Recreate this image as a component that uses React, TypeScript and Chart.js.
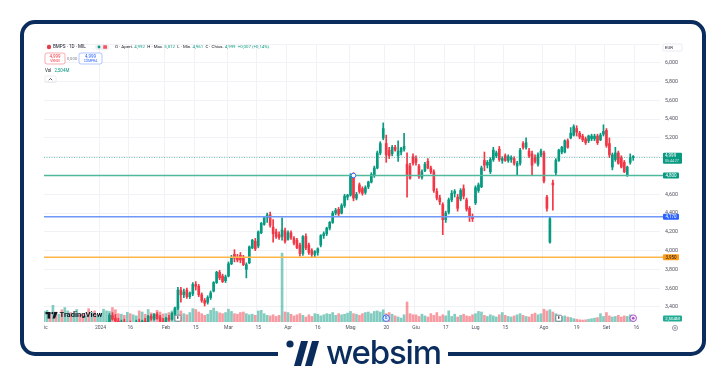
import React, { useEffect, useRef } from 'react';
import { Chart, registerables } from 'chart.js';

Chart.register(...registerables);

// ---------------- data ----------------
const firstSession = '2023-12-01';
const marketHolidays = ['2023-12-25', '2023-12-26', '2024-01-01', '2024-03-29', '2024-04-01', '2024-05-01', '2024-08-15'];
const sessionSlots = 208;

const timeTickIndex = [0, 19, 29, 41, 51, 62, 72, 82, 92, 103, 115, 125, 135, 145, 155, 168, 179, 189, 199];
const timeTickText = ['Dic', '2024', '16', 'Feb', '15', 'Mar', '15', 'Apr', '16', 'Mag', '20', 'Giu', '17', 'Lug', '15', 'Ago', '19', 'Set', '16'];

const priceTicks = [3.4, 3.6, 3.8, 4.0, 4.2, 4.4, 4.6, 4.8, 5.0, 5.2, 5.4, 5.6, 5.8, 6.0, 6.2];

const opens = [
  2.98, 3.00, 3.02, 2.99, 3.05, 3.03, 3.06, 3.04, 3.07, 3.10, 3.06, 3.09, 3.12, 3.08, 3.05, 3.07, 3.04, 3.06, 3.03,
  3.06, 3.11, 3.18, 3.24, 3.31, 3.28, 3.25, 3.22, 3.24, 3.20, 3.22, 3.19, 3.21, 3.24, 3.22, 3.25, 3.23, 3.30, 3.27, 3.32, 3.29, 3.25,
  3.23, 3.28, 3.27, 3.33, 3.39, 3.58, 3.53, 3.58, 3.51, 3.54, 3.64, 3.62, 3.53, 3.47, 3.45, 3.50, 3.57, 3.66, 3.77, 3.73, 3.68,
  3.73, 3.86, 3.96, 3.93, 3.95, 3.93, 3.80, 3.87, 4.03, 4.10, 4.05, 4.19, 4.28, 4.35, 4.38, 4.25, 4.20, 4.17, 4.15, 4.21,
  4.12, 4.19, 4.13, 4.11, 4.06, 3.97, 4.15, 4.06, 4.00, 3.96, 3.98, 4.06, 4.16, 4.18, 4.24, 4.30, 4.40, 4.44, 4.40, 4.48, 4.57,
  4.59, 4.79, 4.56, 4.70, 4.66, 4.62, 4.68, 4.73, 4.80, 4.88, 5.04, 5.20, 5.14, 5.07, 5.03, 5.10, 5.01, 5.05, 5.08, 4.92, 4.90, 5.00,
  4.98, 4.90, 4.78, 4.85, 4.95, 4.88, 4.84, 4.63, 4.56, 4.49, 4.33, 4.41, 4.54, 4.61, 4.57, 4.55, 4.66, 4.54, 4.45, 4.36,
  4.51, 4.64, 4.68, 4.96, 4.91, 4.84, 4.97, 5.01, 5.08, 4.96, 5.01, 4.96, 4.97, 4.98, 4.90, 4.93, 5.14, 5.10, 5.06, 5.03, 4.99, 4.92, 5.02,
  5.04, 4.57, 4.09, 4.72, 4.83, 4.96, 5.05, 5.05, 5.17, 5.20, 5.23, 5.30, 5.25, 5.22, 5.19, 5.17, 5.19, 5.19, 5.22, 5.18, 5.24,
  5.28, 5.14, 4.89, 4.97, 5.04, 4.99, 4.94, 4.80, 4.94, 4.992,
];
const highs = [
  3.02, 3.04, 3.05, 3.06, 3.09, 3.07, 3.10, 3.08, 3.12, 3.13, 3.11, 3.14, 3.15, 3.11, 3.09, 3.10, 3.08, 3.09, 3.07,
  3.12, 3.19, 3.24, 3.33, 3.34, 3.32, 3.28, 3.26, 3.27, 3.24, 3.25, 3.23, 3.26, 3.27, 3.26, 3.28, 3.31, 3.32, 3.33, 3.34, 3.31, 3.28,
  3.29, 3.31, 3.34, 3.40, 3.61, 3.61, 3.59, 3.60, 3.56, 3.66, 3.67, 3.64, 3.55, 3.49, 3.52, 3.57, 3.67, 3.78, 3.79, 3.75, 3.74,
  3.88, 3.95, 4.01, 3.96, 3.98, 3.95, 3.87, 4.05, 4.12, 4.13, 4.21, 4.30, 4.36, 4.40, 4.41, 4.33, 4.23, 4.20, 4.35, 4.24,
  4.21, 4.21, 4.15, 4.13, 4.08, 4.16, 4.18, 4.08, 4.02, 4.00, 4.03, 4.17, 4.20, 4.25, 4.31, 4.42, 4.45, 4.46, 4.50, 4.60, 4.60,
  4.82, 4.83, 4.62, 4.72, 4.68, 4.69, 4.74, 4.83, 4.90, 5.06, 5.16, 5.36, 5.23, 5.10, 5.12, 5.12, 5.17, 5.10, 5.25, 5.04, 4.93, 5.03,
  5.01, 4.92, 4.86, 4.94, 4.98, 4.90, 4.86, 4.66, 4.59, 4.51, 4.42, 4.56, 4.64, 4.65, 4.60, 4.66, 4.70, 4.56, 4.47, 4.39,
  4.69, 4.72, 4.90, 5.05, 4.96, 4.99, 5.10, 5.06, 5.11, 5.00, 5.03, 5.02, 5.01, 5.00, 4.95, 5.09, 5.16, 5.20, 5.09, 5.06, 5.02, 5.04, 5.08,
  5.06, 4.59, 4.36, 4.75, 4.98, 5.08, 5.11, 5.18, 5.19, 5.31, 5.34, 5.33, 5.27, 5.24, 5.21, 5.23, 5.24, 5.24, 5.24, 5.25, 5.34,
  5.30, 5.20, 5.04, 5.10, 5.06, 5.01, 4.96, 4.90, 5.03, 5.012,
];
const lows = [
  2.95, 2.97, 2.98, 2.97, 3.01, 2.99, 3.02, 3.00, 3.04, 3.05, 3.03, 3.06, 3.07, 3.03, 3.02, 3.03, 3.01, 3.02, 3.00,
  3.04, 3.09, 3.15, 3.22, 3.26, 3.23, 3.20, 3.18, 3.19, 3.16, 3.18, 3.16, 3.19, 3.20, 3.19, 3.21, 3.22, 3.26, 3.26, 3.27, 3.23, 3.21,
  3.22, 3.25, 3.26, 3.31, 3.37, 3.45, 3.50, 3.49, 3.49, 3.52, 3.58, 3.51, 3.45, 3.41, 3.43, 3.48, 3.56, 3.65, 3.69, 3.66, 3.66,
  3.72, 3.85, 3.88, 3.88, 3.87, 3.84, 3.71, 3.86, 4.02, 4.00, 4.03, 4.18, 4.27, 4.30, 4.25, 4.09, 4.13, 4.12, 4.11, 4.08,
  4.11, 4.12, 4.06, 4.02, 3.94, 3.95, 4.01, 3.96, 3.93, 3.93, 3.95, 4.04, 4.13, 4.16, 4.22, 4.29, 4.38, 4.37, 4.39, 4.46, 4.54,
  4.58, 4.53, 4.54, 4.61, 4.59, 4.60, 4.66, 4.72, 4.78, 4.87, 5.02, 5.18, 4.94, 4.98, 5.01, 5.06, 4.95, 5.02, 5.06, 4.57, 4.76, 4.91,
  4.91, 4.77, 4.76, 4.84, 4.87, 4.82, 4.62, 4.54, 4.49, 4.17, 4.30, 4.39, 4.52, 4.57, 4.42, 4.53, 4.55, 4.42, 4.31, 4.31,
  4.49, 4.62, 4.67, 4.85, 4.88, 4.82, 4.95, 4.99, 4.95, 4.93, 4.95, 4.94, 4.94, 4.91, 4.80, 4.91, 5.08, 5.08, 4.99, 4.80, 4.93, 4.90, 5.00,
  4.72, 4.42, 4.08, 4.43, 4.81, 4.95, 5.03, 5.04, 5.09, 5.19, 5.22, 5.22, 5.19, 5.16, 5.13, 5.15, 5.17, 5.17, 5.13, 5.17, 5.22,
  5.10, 4.99, 4.86, 4.95, 4.92, 4.88, 4.83, 4.79, 4.92, 4.961,
];
const closes = [
  3.00, 3.02, 2.99, 3.05, 3.03, 3.06, 3.04, 3.07, 3.10, 3.06, 3.09, 3.12, 3.08, 3.05, 3.07, 3.04, 3.06, 3.03, 3.05,
  3.11, 3.18, 3.22, 3.31, 3.27, 3.25, 3.22, 3.24, 3.20, 3.22, 3.19, 3.21, 3.24, 3.22, 3.25, 3.23, 3.30, 3.28, 3.32, 3.28, 3.25, 3.22,
  3.28, 3.27, 3.33, 3.39, 3.58, 3.53, 3.56, 3.51, 3.55, 3.64, 3.62, 3.53, 3.47, 3.44, 3.50, 3.55, 3.66, 3.77, 3.71, 3.67, 3.72,
  3.86, 3.93, 3.92, 3.90, 3.90, 3.85, 3.85, 4.04, 4.11, 4.02, 4.20, 4.29, 4.35, 4.38, 4.27, 4.18, 4.15, 4.14, 4.22, 4.10,
  4.19, 4.14, 4.08, 4.03, 3.97, 4.15, 4.03, 3.98, 3.96, 3.99, 4.02, 4.16, 4.18, 4.24, 4.30, 4.40, 4.43, 4.39, 4.48, 4.58, 4.59,
  4.79, 4.56, 4.60, 4.63, 4.61, 4.67, 4.73, 4.81, 4.88, 5.04, 5.14, 5.30, 5.02, 5.01, 5.10, 5.07, 5.06, 5.09, 5.11, 4.81, 4.77, 4.93,
  4.94, 4.79, 4.84, 4.92, 4.88, 4.84, 4.64, 4.56, 4.52, 4.33, 4.40, 4.54, 4.61, 4.63, 4.45, 4.64, 4.58, 4.44, 4.36, 4.34,
  4.67, 4.70, 4.88, 4.91, 4.94, 4.97, 5.07, 5.04, 4.97, 4.98, 4.96, 5.00, 4.99, 4.93, 4.93, 5.07, 5.10, 5.15, 5.01, 4.91, 4.95, 5.02, 5.06,
  4.74, 4.45, 4.34, 4.70, 4.96, 5.07, 5.10, 5.17, 5.10, 5.25, 5.32, 5.26, 5.21, 5.18, 5.15, 5.22, 5.22, 5.22, 5.15, 5.23, 5.27,
  5.12, 5.02, 5.02, 5.04, 4.93, 4.89, 4.84, 4.89, 4.99, 4.999,
];
const volumesM = [
  38, 42, 30, 60, 36, 28, 44, 52, 40, 34, 31, 45, 26, 30, 22, 48, 35, 40, 25,
  32, 46, 40, 38, 52, 44, 30, 28, 24, 35, 30, 26, 22, 40, 36, 28, 45, 33, 30, 42, 36, 29,
  30, 34, 40, 46, 55, 40, 30, 26, 34, 48, 45, 36, 30, 24, 28, 42, 50, 38, 33, 30, 34,
  46, 38, 30, 28, 34, 36, 30, 26, 28, 24, 40, 42, 30, 24, 22, 26, 20, 24, 248, 36,
  34, 28, 22, 26, 30, 24, 18, 26, 20, 30, 28, 22, 26, 30, 28, 34, 24, 30, 26, 28, 32,
  38, 30, 28, 24, 30, 34, 36, 30, 38, 40, 36, 44, 30, 34, 28, 22, 18, 14, 26, 72, 30, 26,
  26, 20, 28, 22, 18, 30, 24, 34, 20, 26, 22, 40, 20, 28, 18, 24, 28, 22, 20, 26,
  30, 38, 36, 24, 20, 26, 22, 18, 26, 34, 24, 20, 18, 22, 26, 30, 24, 20, 18, 28, 32, 26, 30,
  46, 40, 44, 36, 30, 24, 20, 22, 18, 16, 12, 10, 8, 7, 8, 10, 12, 14, 16, 30, 20,
  34, 22, 18, 20, 24, 18, 22, 20, 26, 2.5,
];

const levelValues = [4.8, 4.36, 3.93];
const levelLabels = ['4,800', '4,170', '3,950'];
const anchorIndex = 104;
const earningsIndex = [45, 173];
const dividendIndex = [115];
const eventIndex = [198];

const headerSymbol = 'BMPS · 1D · MIL';
const ohlcNames = ['O · Apert.', 'H · Max.', 'L · Min.', 'C · Chius.'];
const ohlcValues = ['4,992', '5,012', '4,961', '4,999'];
const changeText = '+0,007 (+0,14%)';
const volumeText = '2,504M';
const countdownText = '05:44:27';

// ---------------- styling ----------------
const GREEN = '#089981';
const RED = '#f23645';
const DARK = '#131722';
const GRID = '#f1f2f5';
const AXIS_TXT = '#50535e';
const FONT = 'Roboto, "DejaVu Sans", sans-serif';
const levelLineColors = ['#4fb99c', '#6f98f7', '#ffb548'];
const levelBoxColors = ['#089981', '#2962ff', '#ff9c1a'];
const levelTextColors = ['#ffffff', '#ffffff', '#131722'];

const fmt = (v: number) => v.toFixed(3).replace('.', ',');

function buildSessions(): string[] {
  const out: string[] = [];
  const d = new Date(firstSession + 'T00:00:00Z');
  while (out.length < sessionSlots) {
    const iso = d.toISOString().slice(0, 10);
    const wd = d.getUTCDay();
    if (wd !== 0 && wd !== 6 && !marketHolidays.includes(iso)) out.push(iso);
    d.setUTCDate(d.getUTCDate() + 1);
  }
  return out;
}

function txt(ctx: CanvasRenderingContext2D, s: string, x: number, y: number, color: string, size: number, weight = 400, align: CanvasTextAlign = 'left') {
  ctx.font = `${weight} ${size}px ${FONT}`;
  ctx.fillStyle = color;
  ctx.textAlign = align;
  ctx.textBaseline = 'middle';
  ctx.fillText(s, x, y);
  return ctx.measureText(s).width;
}

function rrect(ctx: CanvasRenderingContext2D, x: number, y: number, w: number, h: number, r: number) {
  ctx.beginPath();
  ctx.roundRect(x, y, w, h, r);
}

function dot(ctx: CanvasRenderingContext2D, x: number, y: number, r: number) {
  ctx.beginPath();
  ctx.arc(x, y, r, 0, Math.PI * 2);
}

const tvOverlay = {
  id: 'tvOverlay',
  afterDatasetsDraw(chart: any) {
    const { ctx, chartArea: a, scales } = chart;
    const x = scales.x;
    const y = scales.y;
    ctx.save();
    // last price dotted line
    const py = Math.round(y.getPixelForValue(closes[closes.length - 1])) + 0.5;
    ctx.strokeStyle = 'rgba(8,153,129,0.55)';
    ctx.lineWidth = 1;
    ctx.setLineDash([1, 1.5]);
    ctx.beginPath();
    ctx.moveTo(a.left, py);
    ctx.lineTo(a.right + 3, py);
    ctx.stroke();
    ctx.setLineDash([]);
    // horizontal level drawings
    levelValues.forEach((v, k) => {
      const ly = y.getPixelForValue(v);
      ctx.strokeStyle = levelLineColors[k];
      ctx.lineWidth = 1.4;
      ctx.beginPath();
      ctx.moveTo(a.left, ly);
      ctx.lineTo(a.right + 3, ly);
      ctx.stroke();
    });
    // anchor handle
    dot(ctx, x.getPixelForValue(anchorIndex), y.getPixelForValue(levelValues[0]), 2.3);
    ctx.fillStyle = '#fff';
    ctx.fill();
    ctx.strokeStyle = '#2962ff';
    ctx.lineWidth = 0.9;
    ctx.stroke();
    // event markers on the time line
    const my = a.bottom - 3.8;
    earningsIndex.forEach((i) => {
      const mx = x.getPixelForValue(i);
      rrect(ctx, mx - 3, my - 3, 6, 6, 1);
      ctx.fillStyle = '#fff';
      ctx.fill();
      ctx.strokeStyle = '#6a6d78';
      ctx.lineWidth = 0.8;
      ctx.stroke();
      txt(ctx, 'E', mx, my + 0.2, DARK, 4, 500, 'center');
    });
    dividendIndex.forEach((i) => {
      const mx = x.getPixelForValue(i);
      dot(ctx, mx, my, 3.3);
      ctx.fillStyle = '#e3ebff';
      ctx.fill();
      ctx.strokeStyle = '#2962ff';
      ctx.lineWidth = 0.9;
      ctx.stroke();
      txt(ctx, 'D', mx, my + 0.2, '#2962ff', 3.6, 600, 'center');
    });
    eventIndex.forEach((i) => {
      const mx = x.getPixelForValue(i);
      dot(ctx, mx, my, 3.3);
      ctx.fillStyle = '#f6e8fa';
      ctx.fill();
      ctx.strokeStyle = '#a54cc4';
      ctx.lineWidth = 0.9;
      ctx.stroke();
      dot(ctx, mx, my, 1.3);
      ctx.fillStyle = '#a54cc4';
      ctx.fill();
    });
    ctx.restore();
  },
  afterDraw(chart: any) {
    const { ctx, chartArea: a, scales } = chart;
    const y = scales.y;
    const yv = scales.yv;
    ctx.save();
    // hide the part of the first month label that falls left of the pane
    ctx.fillStyle = '#fff';
    ctx.fillRect(26, a.bottom + 1, a.left - 26, 12);

    const bx = a.right + 3;
    // EUR box
    rrect(ctx, bx, a.top, 19, 7, 1);
    ctx.strokeStyle = '#e0e3eb';
    ctx.lineWidth = 0.7;
    ctx.stroke();
    txt(ctx, 'EUR', bx + 2, a.top + 3.6, DARK, 4.3);

    // last price box
    const py = y.getPixelForValue(closes[closes.length - 1]);
    rrect(ctx, bx, py - 4, 19, 11, 1);
    ctx.fillStyle = GREEN;
    ctx.fill();
    txt(ctx, fmt(closes[closes.length - 1]), bx + 2, py - 1, '#fff', 4.6);
    txt(ctx, countdownText, bx + 2, py + 4, 'rgba(255,255,255,0.85)', 3.6);

    // level boxes
    levelValues.forEach((v, k) => {
      const ly = y.getPixelForValue(v);
      rrect(ctx, bx, ly - 3, 16, 6, 1);
      ctx.fillStyle = levelBoxColors[k];
      ctx.fill();
      txt(ctx, levelLabels[k], bx + 8, ly + 0.2, levelTextColors[k], 4.5, 400, 'center');
    });

    // volume box
    const vy = Math.min(yv.getPixelForValue(volumesM[volumesM.length - 1]), a.bottom - 3.5);
    rrect(ctx, bx, vy - 3, 19, 6, 1);
    ctx.fillStyle = '#22ab94';
    ctx.fill();
    txt(ctx, volumeText, bx + 9.5, vy + 0.2, '#fff', 4.4, 400, 'center');

    // gear
    dot(ctx, bx + 12, a.bottom + 6, 2.6);
    ctx.strokeStyle = '#8a8d96';
    ctx.lineWidth = 0.8;
    ctx.stroke();
    dot(ctx, bx + 12, a.bottom + 6, 0.9);
    ctx.stroke();

    // header row 1
    dot(ctx, 49, 47, 2.2);
    ctx.fillStyle = '#e0404a';
    ctx.fill();
    let cx = 53;
    cx += txt(ctx, headerSymbol, cx, 47, DARK, 4.6);
    rrect(ctx, 95, 44, 14, 6, 3);
    ctx.fillStyle = '#eef0f4';
    ctx.fill();
    dot(ctx, 99, 47, 1.4);
    ctx.fillStyle = GREEN;
    ctx.fill();
    rrect(ctx, 103.2, 45.2, 3.8, 3.6, 0.6);
    ctx.fillStyle = '#f7525f';
    ctx.fill();
    cx = 115;
    ohlcNames.forEach((n, k) => {
      cx += txt(ctx, n + ' ', cx, 47, DARK, 4.4);
      cx += txt(ctx, ohlcValues[k] + '  ', cx, 47, GREEN, 4.4);
    });
    txt(ctx, changeText, cx, 47, GREEN, 4.4);

    // header row 2: sell / buy
    rrect(ctx, 45, 53, 20, 11, 2);
    ctx.fillStyle = '#fff';
    ctx.fill();
    ctx.strokeStyle = 'rgba(242,54,69,0.5)';
    ctx.lineWidth = 0.8;
    ctx.stroke();
    txt(ctx, ohlcValues[3], 55, 56.6, RED, 4.5, 400, 'center');
    txt(ctx, 'VENDI', 55, 61.2, RED, 3.3, 400, 'center');
    txt(ctx, '0,000', 72, 58.8, '#787b86', 4.1, 400, 'center');
    rrect(ctx, 79, 53, 23, 11, 2);
    ctx.fillStyle = '#fff';
    ctx.fill();
    ctx.strokeStyle = 'rgba(41,98,255,0.45)';
    ctx.stroke();
    txt(ctx, ohlcValues[3], 90.5, 56.6, '#2962ff', 4.5, 400, 'center');
    txt(ctx, 'COMPRA', 90.5, 61.2, '#2962ff', 3.3, 400, 'center');

    // header row 3: volume
    const vw = txt(ctx, 'Vol', 45, 71, DARK, 4.5);
    txt(ctx, volumeText, 45 + vw + 3, 71, GREEN, 4.5);

    // header row 4: collapse button
    rrect(ctx, 45, 76, 11, 6.5, 1.5);
    ctx.strokeStyle = '#e0e3eb';
    ctx.lineWidth = 0.7;
    ctx.stroke();
    ctx.beginPath();
    ctx.moveTo(48.8, 80.2);
    ctx.lineTo(50.5, 78.5);
    ctx.lineTo(52.2, 80.2);
    ctx.strokeStyle = DARK;
    ctx.stroke();

    // TradingView watermark
    ctx.fillStyle = DARK;
    ctx.fillRect(45.5, 312, 5, 2.2);
    ctx.fillRect(47.6, 312, 2.6, 6.6);
    dot(ctx, 52.4, 313.1, 1.15);
    ctx.fill();
    ctx.beginPath();
    ctx.moveTo(54.2, 312);
    ctx.lineTo(57.6, 312);
    ctx.lineTo(55.0, 318.6);
    ctx.lineTo(52.6, 318.6);
    ctx.closePath();
    ctx.fill();
    txt(ctx, 'TradingView', 59.5, 315.4, DARK, 7.6, 700);
    ctx.restore();
  },
};

export default function App() {
  const ref = useRef<HTMLCanvasElement | null>(null);

  useEffect(() => {
    if (!ref.current) return;
    const labels = buildSessions();
    const tickLabelAt = new Map<number, string>(timeTickIndex.map((i, k) => [i, timeTickText[k]]));
    const candleColors = closes.map((c, i) => (c >= opens[i] ? GREEN : RED));
    const volumeColors = closes.map((c, i) => (c >= opens[i] ? 'rgba(8,153,129,0.5)' : 'rgba(242,54,69,0.5)'));

    const chart = new Chart(ref.current, {
      type: 'bar',
      data: {
        labels,
        datasets: [
          {
            label: 'Volume',
            data: volumesM,
            yAxisID: 'yv',
            backgroundColor: volumeColors,
            barThickness: 2,
            grouped: false,
            order: 3,
          },
          {
            label: 'Wick',
            data: lows.map((l, i) => [l, highs[i]]),
            yAxisID: 'y',
            backgroundColor: candleColors,
            barThickness: 1,
            grouped: false,
            order: 2,
          },
          {
            label: 'Body',
            data: opens.map((o, i) => [o, closes[i]]),
            yAxisID: 'y',
            backgroundColor: candleColors,
            barThickness: 2,
            minBarLength: 1,
            grouped: false,
            order: 1,
          },
        ],
      } as any,
      options: {
        animation: false,
        responsive: false,
        maintainAspectRatio: false,
        layout: { padding: { left: 44, right: 26, top: 44, bottom: 40 } },
        plugins: { legend: { display: false }, tooltip: { enabled: false } },
        scales: {
          x: {
            type: 'category',
            offset: false,
            grid: {
              color: (c: any) => (tickLabelAt.has(c.index) ? GRID : 'rgba(0,0,0,0)'),
              drawTicks: false,
            },
            border: { display: false },
            ticks: {
              autoSkip: false,
              maxRotation: 0,
              minRotation: 0,
              padding: 3,
              color: AXIS_TXT,
              font: { family: FONT, size: 5 },
              callback: (_v: any, i: number) => tickLabelAt.get(i) ?? '',
            },
            afterFit: (s: any) => {
              s.height = 14;
            },
          },
          y: {
            type: 'linear',
            position: 'right',
            min: 3.24,
            max: 6.2,
            afterBuildTicks: (s: any) => {
              s.ticks = priceTicks.map((v) => ({ value: v }));
            },
            grid: { color: GRID, drawTicks: false },
            border: { display: false },
            ticks: {
              padding: 5,
              color: AXIS_TXT,
              font: { family: FONT, size: 5.3 },
              callback: (v: any) => (Number(v) > 6.1 ? '' : fmt(Number(v))),
            },
            afterFit: (s: any) => {
              s.width = 40;
            },
          },
          yv: { type: 'linear', display: false, min: 0, max: 1000 },
        },
      } as any,
      plugins: [tvOverlay],
    });
    return () => chart.destroy();
  }, []);

  return (
    <div style={{ position: 'fixed', left: 0, top: 0, width: 726, height: 376, background: '#fff', overflow: 'hidden' }}>
      <div
        style={{
          position: 'absolute',
          left: 20,
          top: 20,
          width: 686,
          height: 336,
          border: '4px solid #0b2d5e',
          borderRadius: 15,
          boxSizing: 'border-box',
        }}
      />
      <canvas ref={ref} width={726} height={376} style={{ position: 'absolute', left: 0, top: 0, width: 726, height: 376 }} />
      <div style={{ position: 'absolute', left: 278, top: 336, width: 170, height: 34, background: '#fff' }}>
        <svg width={38} height={30} style={{ position: 'absolute', left: 7, top: 2 }} viewBox="0 0 38 30">
          <circle cx={5} cy={6} r={3.6} fill="#0b2d5e" />
          <polygon points="16,3 23,3 16,28 9,28" fill="#0b2d5e" />
          <polygon points="27,3 34,3 27,28 20,28" fill="#0b2d5e" />
        </svg>
        <span
          style={{
            position: 'absolute',
            left: 48,
            top: -0.5,
            fontFamily: 'Inter, Roboto, sans-serif',
            fontWeight: 500,
            fontSize: 33,
            lineHeight: '33px',
            color: '#0b2d5e',
            letterSpacing: -1.2,
            whiteSpace: 'nowrap',
          }}
        >
          websim
        </span>
      </div>
    </div>
  );
}
